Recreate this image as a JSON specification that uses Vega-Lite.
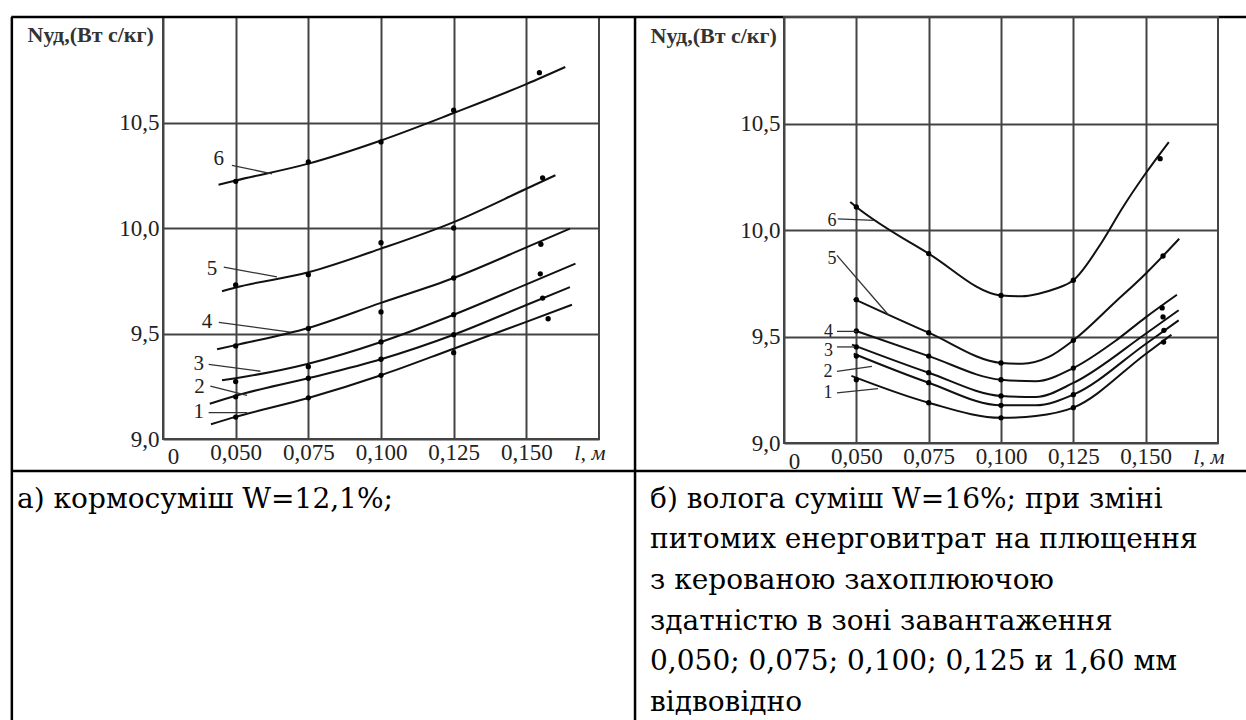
{
  "$schema": "https://vega.github.io/schema/vega-lite/v6.json",
  "autosize": {"type": "pad"},
  "padding": {"left": 9, "top": 14, "right": 0, "bottom": 0},
  "background": "white",
  "bounds": "flush",
  "spacing": 185,
  "datasets": {
    "linesA": [
      {"curve": "6", "l": 0.0441, "N": 10.205}, {"curve": "6", "l": 0.05, "N": 10.225}, {"curve": "6", "l": 0.075, "N": 10.305}, {"curve": "6", "l": 0.1, "N": 10.415}, {"curve": "6", "l": 0.125, "N": 10.545}, {"curve": "6", "l": 0.15, "N": 10.682}, {"curve": "6", "l": 0.1634, "N": 10.763},
      {"curve": "5", "l": 0.0453, "N": 9.7}, {"curve": "5", "l": 0.05, "N": 9.718}, {"curve": "5", "l": 0.075, "N": 9.79}, {"curve": "5", "l": 0.1, "N": 9.902}, {"curve": "5", "l": 0.125, "N": 10.028}, {"curve": "5", "l": 0.15, "N": 10.186}, {"curve": "5", "l": 0.16, "N": 10.25},
      {"curve": "4", "l": 0.0436, "N": 9.425}, {"curve": "4", "l": 0.05, "N": 9.445}, {"curve": "4", "l": 0.075, "N": 9.526}, {"curve": "4", "l": 0.1, "N": 9.645}, {"curve": "4", "l": 0.125, "N": 9.763}, {"curve": "4", "l": 0.15, "N": 9.908}, {"curve": "4", "l": 0.165, "N": 9.997},
      {"curve": "3", "l": 0.0453, "N": 9.278}, {"curve": "3", "l": 0.05, "N": 9.288}, {"curve": "3", "l": 0.075, "N": 9.357}, {"curve": "3", "l": 0.1, "N": 9.46}, {"curve": "3", "l": 0.125, "N": 9.589}, {"curve": "3", "l": 0.15, "N": 9.733}, {"curve": "3", "l": 0.1669, "N": 9.831},
      {"curve": "2", "l": 0.0411, "N": 9.167}, {"curve": "2", "l": 0.05, "N": 9.205}, {"curve": "2", "l": 0.075, "N": 9.288}, {"curve": "2", "l": 0.1, "N": 9.378}, {"curve": "2", "l": 0.125, "N": 9.494}, {"curve": "2", "l": 0.15, "N": 9.635}, {"curve": "2", "l": 0.165, "N": 9.72},
      {"curve": "1", "l": 0.0415, "N": 9.07}, {"curve": "1", "l": 0.05, "N": 9.105}, {"curve": "1", "l": 0.075, "N": 9.194}, {"curve": "1", "l": 0.1, "N": 9.302}, {"curve": "1", "l": 0.125, "N": 9.428}, {"curve": "1", "l": 0.15, "N": 9.555}, {"curve": "1", "l": 0.1657, "N": 9.636}
    ],
    "dotsA": [
      {"curve": "6", "l": 0.05, "N": 10.221}, {"curve": "6", "l": 0.075, "N": 10.313}, {"curve": "6", "l": 0.1, "N": 10.408}, {"curve": "6", "l": 0.125, "N": 10.558}, {"curve": "6", "l": 0.1545, "N": 10.736},
      {"curve": "5", "l": 0.05, "N": 9.73}, {"curve": "5", "l": 0.075, "N": 9.779}, {"curve": "5", "l": 0.1, "N": 9.93}, {"curve": "5", "l": 0.125, "N": 10.0}, {"curve": "5", "l": 0.1556, "N": 10.238},
      {"curve": "4", "l": 0.05, "N": 9.441}, {"curve": "4", "l": 0.075, "N": 9.524}, {"curve": "4", "l": 0.1, "N": 9.602}, {"curve": "4", "l": 0.125, "N": 9.763}, {"curve": "4", "l": 0.155, "N": 9.923},
      {"curve": "3", "l": 0.05, "N": 9.272}, {"curve": "3", "l": 0.075, "N": 9.343}, {"curve": "3", "l": 0.1, "N": 9.46}, {"curve": "3", "l": 0.125, "N": 9.589}, {"curve": "3", "l": 0.1548, "N": 9.783},
      {"curve": "2", "l": 0.05, "N": 9.2}, {"curve": "2", "l": 0.075, "N": 9.288}, {"curve": "2", "l": 0.1, "N": 9.378}, {"curve": "2", "l": 0.125, "N": 9.494}, {"curve": "2", "l": 0.1556, "N": 9.668},
      {"curve": "1", "l": 0.05, "N": 9.104}, {"curve": "1", "l": 0.075, "N": 9.195}, {"curve": "1", "l": 0.1, "N": 9.302}, {"curve": "1", "l": 0.125, "N": 9.409}, {"curve": "1", "l": 0.1575, "N": 9.57}
    ],
    "labelsA": [
      {"curve": "6", "l": 0.0442, "N": 10.328, "l2": 0.0487, "N1": 10.297, "l3": 0.0625, "N2": 10.257},
      {"curve": "5", "l": 0.0419, "N": 9.804, "l2": 0.0459, "N1": 9.815, "l3": 0.0642, "N2": 9.768},
      {"curve": "4", "l": 0.0401, "N": 9.553, "l2": 0.0442, "N1": 9.553, "l3": 0.0688, "N2": 9.507},
      {"curve": "3", "l": 0.0373, "N": 9.357, "l2": 0.0407, "N1": 9.354, "l3": 0.0585, "N2": 9.321},
      {"curve": "2", "l": 0.0376, "N": 9.246, "l2": 0.0413, "N1": 9.251, "l3": 0.0539, "N2": 9.207},
      {"curve": "1", "l": 0.0373, "N": 9.128, "l2": 0.0407, "N1": 9.125, "l3": 0.054, "N2": 9.125}
    ],
    "linesB": [
      {"curve": "6", "l": 0.0479, "N": 10.131}, {"curve": "6", "l": 0.05, "N": 10.108}, {"curve": "6", "l": 0.075, "N": 9.889}, {"curve": "6", "l": 0.1, "N": 9.693}, {"curve": "6", "l": 0.1073, "N": 9.689}, {"curve": "6", "l": 0.113, "N": 9.701}, {"curve": "6", "l": 0.1188, "N": 9.724}, {"curve": "6", "l": 0.125, "N": 9.764}, {"curve": "6", "l": 0.1349, "N": 9.944}, {"curve": "6", "l": 0.1418, "N": 10.1}, {"curve": "6", "l": 0.1499, "N": 10.264}, {"curve": "6", "l": 0.158, "N": 10.413},
      {"curve": "5", "l": 0.0491, "N": 9.677}, {"curve": "5", "l": 0.075, "N": 9.518}, {"curve": "5", "l": 0.1, "N": 9.376}, {"curve": "5", "l": 0.1073, "N": 9.372}, {"curve": "5", "l": 0.1165, "N": 9.404}, {"curve": "5", "l": 0.125, "N": 9.482}, {"curve": "5", "l": 0.1395, "N": 9.662}, {"curve": "5", "l": 0.15, "N": 9.795}, {"curve": "5", "l": 0.1616, "N": 9.959},
      {"curve": "4", "l": 0.0497, "N": 9.527}, {"curve": "4", "l": 0.075, "N": 9.408}, {"curve": "4", "l": 0.1, "N": 9.297}, {"curve": "4", "l": 0.112, "N": 9.29}, {"curve": "4", "l": 0.125, "N": 9.352}, {"curve": "4", "l": 0.1395, "N": 9.479}, {"curve": "4", "l": 0.15, "N": 9.59}, {"curve": "4", "l": 0.1608, "N": 9.696},
      {"curve": "3", "l": 0.0485, "N": 9.462}, {"curve": "3", "l": 0.075, "N": 9.33}, {"curve": "3", "l": 0.1, "N": 9.221}, {"curve": "3", "l": 0.112, "N": 9.216}, {"curve": "3", "l": 0.125, "N": 9.282}, {"curve": "3", "l": 0.15, "N": 9.513}, {"curve": "3", "l": 0.1614, "N": 9.623},
      {"curve": "2", "l": 0.0491, "N": 9.419}, {"curve": "2", "l": 0.075, "N": 9.283}, {"curve": "2", "l": 0.1, "N": 9.177}, {"curve": "2", "l": 0.112, "N": 9.177}, {"curve": "2", "l": 0.125, "N": 9.227}, {"curve": "2", "l": 0.15, "N": 9.465}, {"curve": "2", "l": 0.1614, "N": 9.576},
      {"curve": "1", "l": 0.0483, "N": 9.315}, {"curve": "1", "l": 0.075, "N": 9.189}, {"curve": "1", "l": 0.1, "N": 9.118}, {"curve": "1", "l": 0.112, "N": 9.127}, {"curve": "1", "l": 0.125, "N": 9.166}, {"curve": "1", "l": 0.15, "N": 9.418}, {"curve": "1", "l": 0.1589, "N": 9.508}
    ],
    "dotsB": [
      {"curve": "6", "l": 0.05, "N": 10.108}, {"curve": "6", "l": 0.075, "N": 9.889}, {"curve": "6", "l": 0.1, "N": 9.693}, {"curve": "6", "l": 0.125, "N": 9.764}, {"curve": "6", "l": 0.155, "N": 10.335},
      {"curve": "5", "l": 0.05, "N": 9.673}, {"curve": "5", "l": 0.075, "N": 9.518}, {"curve": "5", "l": 0.1, "N": 9.376}, {"curve": "5", "l": 0.125, "N": 9.482}, {"curve": "5", "l": 0.156, "N": 9.878},
      {"curve": "4", "l": 0.05, "N": 9.526}, {"curve": "4", "l": 0.075, "N": 9.408}, {"curve": "4", "l": 0.1, "N": 9.297}, {"curve": "4", "l": 0.125, "N": 9.352}, {"curve": "4", "l": 0.1557, "N": 9.634},
      {"curve": "3", "l": 0.05, "N": 9.451}, {"curve": "3", "l": 0.075, "N": 9.33}, {"curve": "3", "l": 0.1, "N": 9.221}, {"curve": "3", "l": 0.156, "N": 9.592},
      {"curve": "2", "l": 0.05, "N": 9.408}, {"curve": "2", "l": 0.075, "N": 9.283}, {"curve": "2", "l": 0.1, "N": 9.177}, {"curve": "2", "l": 0.125, "N": 9.227}, {"curve": "2", "l": 0.1563, "N": 9.529},
      {"curve": "1", "l": 0.05, "N": 9.297}, {"curve": "1", "l": 0.075, "N": 9.189}, {"curve": "1", "l": 0.1, "N": 9.118}, {"curve": "1", "l": 0.125, "N": 9.166}, {"curve": "1", "l": 0.1562, "N": 9.474}
    ],
    "labelsB": [
      {"curve": "6", "l": 0.0416, "N": 10.041, "l2": 0.0436, "N1": 10.052, "l3": 0.056, "N2": 10.045},
      {"curve": "5", "l": 0.0416, "N": 9.865, "l2": 0.0433, "N1": 9.881, "l3": 0.0612, "N2": 9.6},
      {"curve": "4", "l": 0.0404, "N": 9.52, "l2": 0.0433, "N1": 9.524, "l3": 0.0502, "N2": 9.524},
      {"curve": "3", "l": 0.0404, "N": 9.43, "l2": 0.0433, "N1": 9.451, "l3": 0.0493, "N2": 9.451},
      {"curve": "2", "l": 0.0402, "N": 9.335, "l2": 0.0433, "N1": 9.336, "l3": 0.0554, "N2": 9.36},
      {"curve": "1", "l": 0.0402, "N": 9.235, "l2": 0.0433, "N1": 9.235, "l3": 0.0575, "N2": 9.255}
    ]
  },
  "hconcat": [
    {
      "width": 436,
      "height": 422,
      "layer": [
        {
          "data": {"name": "linesA"},
          "mark": {"type": "line", "color": "#111", "strokeWidth": 2, "interpolate": "monotone", "clip": false},
          "encoding": {
            "x": {"field": "l", "type": "quantitative",
              "scale": {"domain": [0.025, 0.175], "nice": false, "zero": false},
              "axis": {
                "values": [0.025, 0.05, 0.075, 0.1, 0.125, 0.15],
                "labelExpr": "datum.value < 0.03 ? '0' : replace(format(datum.value, '.3f'), '.', ',')",
                "labelBaseline": "middle",
                "labelPadding": {"condition": {"test": "datum.value < 0.03", "value": 17}, "value": 13.5},
                "labelOffset": {"condition": {"test": "datum.value < 0.03", "value": 10}, "value": 0},
                "labelFlush": false, "labelOverlap": false,
                "grid": true,
                "title": "l, м", "titleFontStyle": "italic", "titleFontSize": 22,
                "titleAlign": "right", "titleBaseline": "middle", "titleX": 442, "titleY": 13.5
              }
            },
            "y": {"field": "N", "type": "quantitative",
              "scale": {"domain": [9, 11], "nice": false, "zero": false},
              "axis": {
                "values": [9, 9.5, 10, 10.5],
                "labelExpr": "replace(format(datum.value, '.1f'), '.', ',')",
                "labelPadding": 4, "labelBaseline": "middle", "labelFlush": false, "labelOverlap": false,
                "grid": true,
                "title": "Nуд,(Вт с/кг)", "titleAngle": 0, "titleAlign": "left", "titleBaseline": "middle",
                "titleX": -136, "titleY": 17, "titleFontSize": 22, "titleFontWeight": "bold", "titleColor": "#333"
              }
            },
            "detail": {"field": "curve", "type": "nominal"},
            "order": {"field": "l", "type": "quantitative"}
          }
        },
        {
          "data": {"name": "dotsA"},
          "mark": {"type": "circle", "color": "#000", "size": 28, "opacity": 1},
          "encoding": {
            "x": {"field": "l", "type": "quantitative", "scale": {"domain": [0.025, 0.175], "nice": false, "zero": false}},
            "y": {"field": "N", "type": "quantitative", "scale": {"domain": [9, 11], "nice": false, "zero": false}}
          }
        },
        {
          "data": {"name": "labelsA"},
          "mark": {"type": "rule", "color": "#333", "strokeWidth": 1.3, "clip": false},
          "encoding": {
            "x": {"field": "l2", "type": "quantitative", "scale": {"domain": [0.025, 0.175], "nice": false, "zero": false}},
            "y": {"field": "N1", "type": "quantitative", "scale": {"domain": [9, 11], "nice": false, "zero": false}},
            "x2": {"field": "l3"},
            "y2": {"field": "N2"}
          }
        },
        {
          "data": {"name": "labelsA"},
          "mark": {"type": "text", "font": "Liberation Serif", "fontSize": 21, "color": "#222", "align": "center", "baseline": "middle", "clip": false},
          "encoding": {
            "x": {"field": "l", "type": "quantitative", "scale": {"domain": [0.025, 0.175], "nice": false, "zero": false}},
            "y": {"field": "N", "type": "quantitative", "scale": {"domain": [9, 11], "nice": false, "zero": false}},
            "text": {"field": "curve"}
          }
        },
        {
          "data": {"values": [{}]},
          "mark": {"type": "rule", "clip": false, "color": "#000", "strokeWidth": 2.5},
          "encoding": {
            "x": {"datum": -0.027, "type": "quantitative", "scale": {"domain": [0.025, 0.175], "nice": false, "zero": false}},
            "y": {"datum": 11.0, "type": "quantitative", "scale": {"domain": [9, 11], "nice": false, "zero": false}},
            "y2": {"datum": 7.659}
          }
        },
        {
          "data": {"values": [{}]},
          "mark": {"type": "rule", "clip": false, "color": "#000", "strokeWidth": 2.5},
          "encoding": {
            "x": {"datum": 0.1874, "type": "quantitative", "scale": {"domain": [0.025, 0.175], "nice": false, "zero": false}},
            "y": {"datum": 11.0, "type": "quantitative", "scale": {"domain": [9, 11], "nice": false, "zero": false}},
            "y2": {"datum": 7.659}
          }
        },
        {
          "data": {"values": [{}]},
          "mark": {"type": "rule", "clip": false, "color": "#000", "strokeWidth": 2.5},
          "encoding": {
            "x": {"datum": -0.0272, "type": "quantitative", "scale": {"domain": [0.025, 0.175], "nice": false, "zero": false}},
            "x2": {"datum": 0.3983},
            "y": {"datum": 11.0, "type": "quantitative", "scale": {"domain": [9, 11], "nice": false, "zero": false}}
          }
        },
        {
          "data": {"values": [{}]},
          "mark": {"type": "rule", "clip": false, "color": "#000", "strokeWidth": 2.5},
          "encoding": {
            "x": {"datum": -0.0272, "type": "quantitative", "scale": {"domain": [0.025, 0.175], "nice": false, "zero": false}},
            "x2": {"datum": 0.3983},
            "y": {"datum": 8.8483, "type": "quantitative", "scale": {"domain": [9, 11], "nice": false, "zero": false}}
          }
        },
        {
          "data": {"values": [{}]},
          "mark": {"type": "text", "text": "а) кормосуміш W=12,1%;", "font": "DejaVu Serif", "fontSize": 28, "color": "#000", "align": "left", "baseline": "top", "clip": false},
          "encoding": {
            "x": {"datum": -0.0252, "type": "quantitative", "scale": {"domain": [0.025, 0.175], "nice": false, "zero": false}},
            "y": {"datum": 8.7782, "type": "quantitative", "scale": {"domain": [9, 11], "nice": false, "zero": false}}
          }
        }
      ]
    },
    {
      "width": 434,
      "height": 426,
      "layer": [
        {
          "data": {"name": "linesB"},
          "mark": {"type": "line", "color": "#111", "strokeWidth": 2, "interpolate": "monotone", "clip": false},
          "encoding": {
            "x": {"field": "l", "type": "quantitative",
              "scale": {"domain": [0.025, 0.175], "nice": false, "zero": false},
              "axis": {
                "values": [0.025, 0.05, 0.075, 0.1, 0.125, 0.15],
                "labelExpr": "datum.value < 0.03 ? '0' : replace(format(datum.value, '.3f'), '.', ',')",
                "labelBaseline": "middle",
                "labelPadding": {"condition": {"test": "datum.value < 0.03", "value": 18.5}, "value": 13.5},
                "labelOffset": {"condition": {"test": "datum.value < 0.03", "value": 10}, "value": 0},
                "labelFlush": false, "labelOverlap": false,
                "grid": true,
                "title": "l, м", "titleFontStyle": "italic", "titleFontSize": 22,
                "titleAlign": "right", "titleBaseline": "middle", "titleX": 440, "titleY": 13.5
              }
            },
            "y": {"field": "N", "type": "quantitative",
              "scale": {"domain": [9, 11], "nice": false, "zero": false},
              "axis": {
                "values": [9, 9.5, 10, 10.5],
                "labelExpr": "replace(format(datum.value, '.1f'), '.', ',')",
                "labelPadding": 4, "labelBaseline": "middle", "labelFlush": false, "labelOverlap": false,
                "grid": true,
                "title": "Nуд,(Вт с/кг)", "titleAngle": 0, "titleAlign": "left", "titleBaseline": "middle",
                "titleX": -134, "titleY": 18, "titleFontSize": 22, "titleFontWeight": "bold", "titleColor": "#333"
              }
            },
            "detail": {"field": "curve", "type": "nominal"},
            "order": {"field": "l", "type": "quantitative"}
          }
        },
        {
          "data": {"name": "dotsB"},
          "mark": {"type": "circle", "color": "#000", "size": 28, "opacity": 1},
          "encoding": {
            "x": {"field": "l", "type": "quantitative", "scale": {"domain": [0.025, 0.175], "nice": false, "zero": false}},
            "y": {"field": "N", "type": "quantitative", "scale": {"domain": [9, 11], "nice": false, "zero": false}}
          }
        },
        {
          "data": {"name": "labelsB"},
          "mark": {"type": "rule", "color": "#333", "strokeWidth": 1.3, "clip": false},
          "encoding": {
            "x": {"field": "l2", "type": "quantitative", "scale": {"domain": [0.025, 0.175], "nice": false, "zero": false}},
            "y": {"field": "N1", "type": "quantitative", "scale": {"domain": [9, 11], "nice": false, "zero": false}},
            "x2": {"field": "l3"},
            "y2": {"field": "N2"}
          }
        },
        {
          "data": {"name": "labelsB"},
          "mark": {"type": "text", "font": "Liberation Serif", "fontSize": 18, "color": "#222", "align": "center", "baseline": "middle", "clip": false},
          "encoding": {
            "x": {"field": "l", "type": "quantitative", "scale": {"domain": [0.025, 0.175], "nice": false, "zero": false}},
            "y": {"field": "N", "type": "quantitative", "scale": {"domain": [9, 11], "nice": false, "zero": false}},
            "text": {"field": "curve"}
          }
        },
        {
          "data": {"values": [{}]},
          "mark": {"type": "text", "text": ["б) волога суміш W=16%; при зміні", "питомих енерговитрат на плющення", "з керованою захоплюючою", "здатністю в зоні завантаження", "\u00a00,050; 0,075; 0,100; 0,125 и 1,60 мм", "відвовідно"], "font": "DejaVu Serif", "fontSize": 28, "lineHeight": 40.6, "color": "#000", "align": "left", "baseline": "top", "clip": false},
          "encoding": {
            "x": {"datum": -0.0213, "type": "quantitative", "scale": {"domain": [0.025, 0.175], "nice": false, "zero": false}},
            "y": {"datum": 8.7991, "type": "quantitative", "scale": {"domain": [9, 11], "nice": false, "zero": false}}
          }
        }
      ]
    }
  ],
  "config": {
    "view": {"stroke": "#444", "strokeWidth": 2},
    "axis": {
      "gridColor": "#444", "gridWidth": 2, "gridOpacity": 1,
      "domain": false, "ticks": false, "tickSize": 0,
      "labelFont": "Liberation Serif", "labelFontSize": 23, "labelColor": "#222",
      "titleFont": "Liberation Serif, DejaVu Serif", "titleFontWeight": "normal", "titleColor": "#222"
    }
  }
}
